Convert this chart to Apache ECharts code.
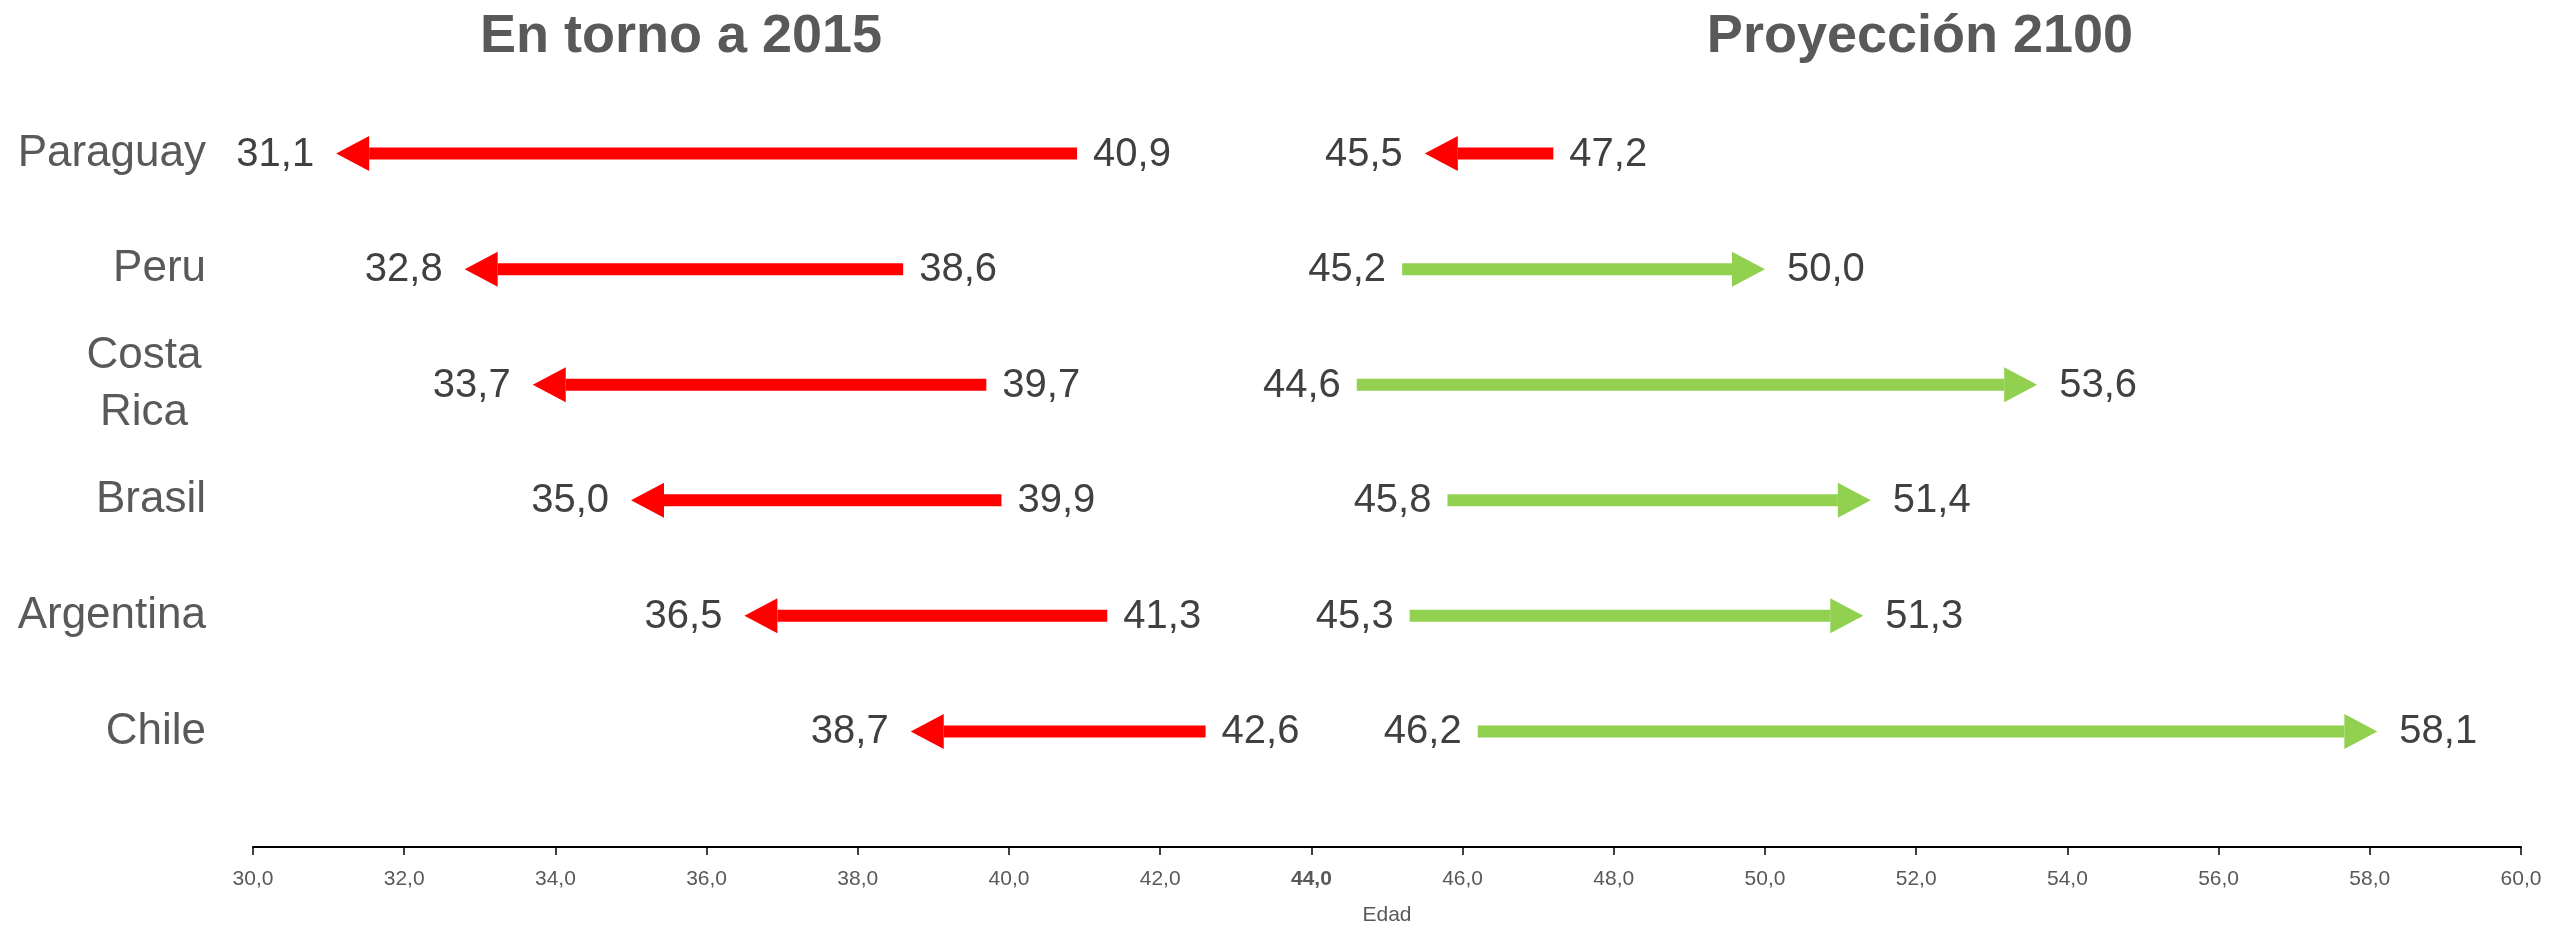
<!DOCTYPE html>
<html>
<head>
<meta charset="utf-8">
<script src="https://cdn.jsdelivr.net/npm/echarts@6/dist/echarts.min.js"></script>
<style>html,body{margin:0;padding:0;background:#fff;}#c{width:2549px;height:926px;}</style>
</head>
<body>
<div id="c"></div>
<script>
// Countries listed top to bottom as in the chart
const countries = ['Paraguay', 'Peru', 'Costa Rica', 'Brasil', 'Argentina', 'Chile'];
// Around 2015: arrow goes from start value to end value
const start2015 = [40.9, 38.6, 39.7, 39.9, 41.3, 42.6];
const end2015   = [31.1, 32.8, 33.7, 35.0, 36.5, 38.7];
// Projection 2100
const start2100 = [47.2, 45.2, 44.6, 45.8, 45.3, 46.2];
const end2100   = [45.5, 50.0, 53.6, 51.4, 51.3, 58.1];
// X axis
const xMin = 30, xMax = 60, xStep = 2;
const titles = ['En torno a 2015', 'Proyección 2100'];
const axisName = 'Edad';

const FONT = "'Liberation Sans', Arial, sans-serif";
const n = countries.length;
// category axis bottom-to-top with empty padding slots
const yCats = [''].concat(countries.slice().reverse()).concat(['']);
function rowIndex(i) { return n - i; } // i = index in top-to-bottom list

function buildData(starts, ends) {
  return countries.map((c, i) => [starts[i], ends[i], rowIndex(i)]);
}
const fmt = v => v.toFixed(1).replace('.', ',');

function renderArrow(params, api) {
  const y = api.value(2);
  const sv = api.value(0), ev = api.value(1);
  const s = api.coord([sv, y]);
  const e = api.coord([ev, y]);
  const dir = e[0] >= s[0] ? 1 : -1;
  const headLen = 33, headH = 35, shaftH = 12;
  const baseX = e[0] - dir * headLen;
  const color = dir > 0 ? '#92D050' : '#FF0000';
  const cy = s[1];
  const startGap = 16, endGap = 22;
  return {
    type: 'group',
    children: [
      { type: 'polygon', shape: { points: [[s[0], cy - shaftH/2], [baseX, cy - shaftH/2], [baseX, cy + shaftH/2], [s[0], cy + shaftH/2]] }, style: { fill: color } },
      { type: 'polygon', shape: { points: [[baseX, cy - headH/2], [e[0], cy], [baseX, cy + headH/2]] }, style: { fill: color } },
      { type: 'text', x: s[0] - dir * startGap, y: cy + 1, style: { text: fmt(sv), align: dir > 0 ? 'right' : 'left', verticalAlign: 'middle', fontSize: 40, fontFamily: FONT, fill: '#404040' } },
      { type: 'text', x: e[0] + dir * endGap, y: cy + 1, style: { text: fmt(ev), align: dir > 0 ? 'left' : 'right', verticalAlign: 'middle', fontSize: 40, fontFamily: FONT, fill: '#404040' } }
    ]
  };
}

const chart = echarts.init(document.getElementById('c'), null, { renderer: 'canvas' });
chart.setOption({
  animation: false,
  backgroundColor: '#ffffff',
  title: [
    { text: titles[0], left: 676, top: 5, textAlign: 'center', textStyle: { fontSize: 54, fontWeight: 'bold', color: '#595959', fontFamily: FONT } },
    { text: titles[1], left: 1915, top: 5, textAlign: 'center', textStyle: { fontSize: 54, fontWeight: 'bold', color: '#595959', fontFamily: FONT } }
  ],
  grid: { left: 253, right: 28, top: 38, bottom: 79, containLabel: false, outerBoundsMode: 'none' },
  xAxis: {
    type: 'value', min: xMin, max: xMax, interval: xStep,
    name: axisName, nameLocation: 'middle', nameGap: 58,
    nameTextStyle: { fontSize: 21, color: '#595959', fontFamily: FONT },
    axisLine: { show: true, lineStyle: { color: '#000000', width: 2 } },
    axisTick: { show: true, length: 8, lineStyle: { color: '#000000', width: 1.5 } },
    splitLine: { show: false },
    axisLabel: {
      margin: 22, fontSize: 21, color: '#595959', fontFamily: FONT,
      formatter: v => v === 44 ? '{b|' + fmt(v) + '}' : fmt(v),
      rich: { b: { fontSize: 21, fontWeight: 'bold', color: '#595959', fontFamily: FONT } }
    }
  },
  yAxis: {
    type: 'category', data: yCats, boundaryGap: false,
    axisLine: { show: false }, axisTick: { show: false }, splitLine: { show: false },
    axisLabel: {
      margin: 47, fontSize: 44, color: '#595959', fontFamily: FONT, interval: 0,
      formatter: v => v.indexOf(' ') >= 0 ? v.split(' ').map(w => '{c|' + w + '}').join('\n') : v,
      rich: { c: { width: 124, align: 'center', fontSize: 44, lineHeight: 57, color: '#595959', fontFamily: FONT } }
    }
  },
  series: [
    { type: 'custom', name: titles[0], renderItem: renderArrow, data: buildData(start2015, end2015), encode: { x: [0, 1], y: 2 } },
    { type: 'custom', name: titles[1], renderItem: renderArrow, data: buildData(start2100, end2100), encode: { x: [0, 1], y: 2 } }
  ]
});
</script>
</body>
</html>
